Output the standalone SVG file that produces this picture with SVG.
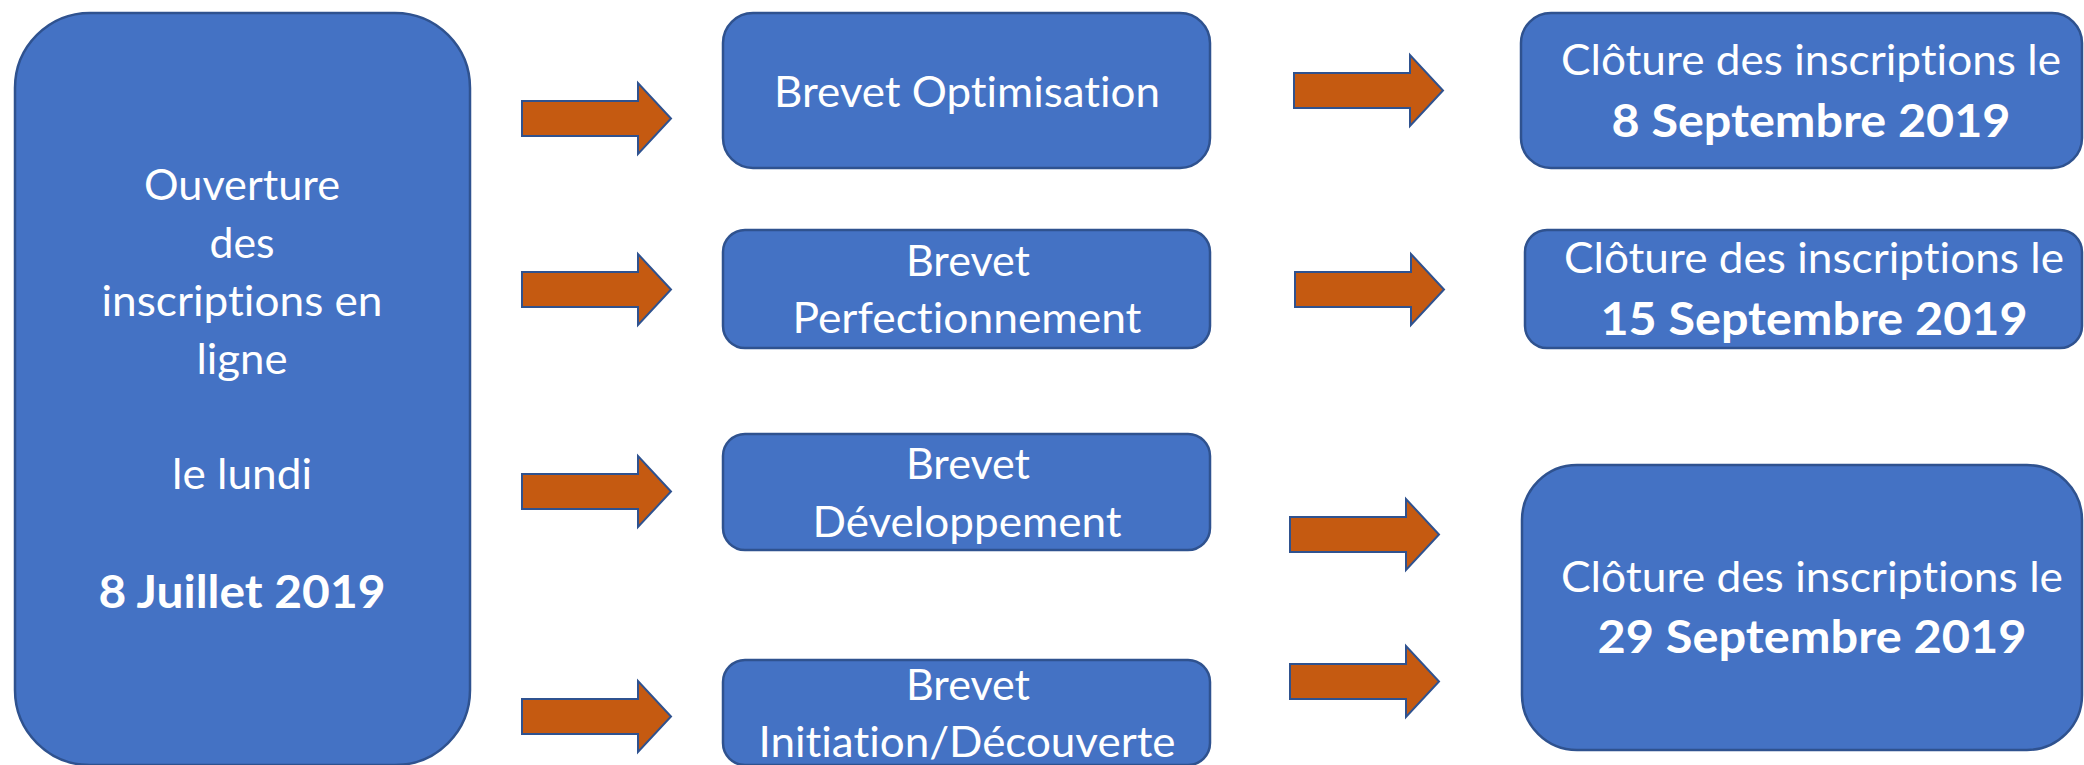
<svg xmlns="http://www.w3.org/2000/svg" xmlns:xlink="http://www.w3.org/1999/xlink" width="2084" height="765" viewBox="0 0 2084 765">
<style>
.box{fill:#4472C4;stroke:#2F528F;stroke-width:2.5}
.arr{fill:#C55A11;stroke:#2F528F;stroke-width:2}
.t{font-family:Lato,"Open Sans","Liberation Sans",sans-serif;font-size:42px;fill:#FFFFFF;text-anchor:middle;font-variant-ligatures:none}
.b{font-family:Lato,"Open Sans","Liberation Sans",sans-serif;font-size:45px;font-weight:bold;fill:#FFFFFF;text-anchor:middle;font-variant-ligatures:none}
</style>
<defs>
<path id="arrow" class="arr" d="M0,18 H116 V0 L149,35.5 L116,71 V53 H0 Z"/>
</defs>
<rect width="2084" height="765" fill="#FFFFFF"/>
<g id="connectors">
<use xlink:href="#arrow" href="#arrow" x="522" y="83"/>
<use xlink:href="#arrow" href="#arrow" x="522" y="254"/>
<use xlink:href="#arrow" href="#arrow" x="522" y="456"/>
<use xlink:href="#arrow" href="#arrow" x="522" y="681"/>
<use xlink:href="#arrow" href="#arrow" x="1294" y="55"/>
<use xlink:href="#arrow" href="#arrow" x="1295" y="254"/>
<use xlink:href="#arrow" href="#arrow" x="1290" y="499"/>
<use xlink:href="#arrow" href="#arrow" x="1290" y="646"/>
</g>
<g id="ouverture">
<rect class="box" x="15" y="13" width="455" height="752" rx="75" ry="75"/>
<text class="t" x="242" y="200" textLength="196" lengthAdjust="spacingAndGlyphs">Ouverture</text>
<text class="t" x="242" y="258" textLength="65" lengthAdjust="spacingAndGlyphs">des</text>
<text class="t" x="242" y="316" textLength="281" lengthAdjust="spacingAndGlyphs">inscriptions en</text>
<text class="t" x="242" y="374" textLength="91" lengthAdjust="spacingAndGlyphs">ligne</text>
<text class="t" x="242" y="489" textLength="140" lengthAdjust="spacingAndGlyphs">le lundi</text>
<text class="b" x="242" y="608" textLength="287" lengthAdjust="spacingAndGlyphs">8 Juillet 2019</text>
</g>
<g id="optimisation">
<rect class="box" x="723" y="13" width="487" height="155" rx="30" ry="30"/>
<text class="t" x="967" y="107" textLength="386" lengthAdjust="spacingAndGlyphs">Brevet Optimisation</text>
</g>
<g id="perfectionnement">
<rect class="box" x="723" y="230" width="487" height="118" rx="22" ry="22"/>
<text class="t" x="968" y="276" textLength="124" lengthAdjust="spacingAndGlyphs">Brevet</text>
<text class="t" x="967" y="333" textLength="349" lengthAdjust="spacingAndGlyphs">Perfectionnement</text>
</g>
<g id="developpement">
<rect class="box" x="723" y="434" width="487" height="116" rx="22" ry="22"/>
<text class="t" x="968" y="479" textLength="124" lengthAdjust="spacingAndGlyphs">Brevet</text>
<text class="t" x="967" y="537" textLength="309" lengthAdjust="spacingAndGlyphs">Développement</text>
</g>
<g id="initiation">
<rect class="box" x="723" y="660" width="487" height="105" rx="22" ry="22"/>
<text class="t" x="968" y="700" textLength="124" lengthAdjust="spacingAndGlyphs">Brevet</text>
<text class="t" x="967" y="757" textLength="417" lengthAdjust="spacingAndGlyphs">Initiation/Découverte</text>
</g>
<g id="cloture8">
<rect class="box" x="1521" y="13" width="561" height="155" rx="30" ry="30"/>
<text class="t" x="1811" y="75" textLength="500" lengthAdjust="spacingAndGlyphs">Clôture des inscriptions le</text>
<text class="b" x="1811" y="137" textLength="399" lengthAdjust="spacingAndGlyphs">8 Septembre 2019</text>
</g>
<g id="cloture15">
<rect class="box" x="1525" y="230" width="557" height="118" rx="22" ry="22"/>
<text class="t" x="1814" y="273" textLength="500" lengthAdjust="spacingAndGlyphs">Clôture des inscriptions le</text>
<text class="b" x="1814" y="335" textLength="427" lengthAdjust="spacingAndGlyphs">15 Septembre 2019</text>
</g>
<g id="cloture29">
<rect class="box" x="1522" y="465" width="560" height="285" rx="55" ry="55"/>
<text class="t" x="1812" y="592" textLength="502" lengthAdjust="spacingAndGlyphs">Clôture des inscriptions le</text>
<text class="b" x="1812" y="653" textLength="429" lengthAdjust="spacingAndGlyphs">29 Septembre 2019</text>
</g>
</svg>
